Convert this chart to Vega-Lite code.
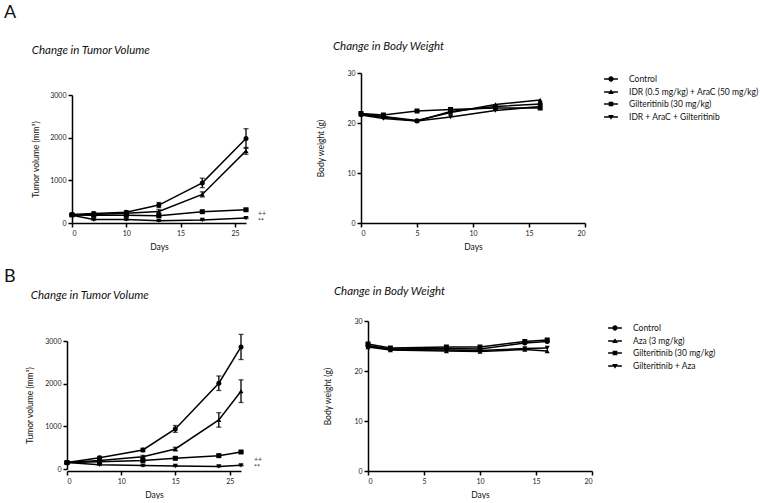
{
  "$schema": "https://vega.github.io/schema/vega-lite/v6.json",
  "background": "white",
  "padding": {"left": 4, "top": 3, "right": 0, "bottom": 0},
  "datasets": {
    "tumorA": [
      {"group": "Control", "day": 0, "vol": 200, "err": 20},
      {"group": "Control", "day": 4, "vol": 220, "err": 40},
      {"group": "Control", "day": 10, "vol": 250, "err": 40},
      {"group": "Control", "day": 13, "vol": 420, "err": 60},
      {"group": "Control", "day": 19, "vol": 940, "err": 110},
      {"group": "Control", "day": 27, "vol": 1980, "err": 230},
      {"group": "IDR (0.5 mg/kg) + AraC (50 mg/kg)", "day": 0, "vol": 190, "err": 20},
      {"group": "IDR (0.5 mg/kg) + AraC (50 mg/kg)", "day": 4, "vol": 200, "err": 30},
      {"group": "IDR (0.5 mg/kg) + AraC (50 mg/kg)", "day": 10, "vol": 230, "err": 30},
      {"group": "IDR (0.5 mg/kg) + AraC (50 mg/kg)", "day": 13, "vol": 270, "err": 40},
      {"group": "IDR (0.5 mg/kg) + AraC (50 mg/kg)", "day": 19, "vol": 670, "err": 60},
      {"group": "IDR (0.5 mg/kg) + AraC (50 mg/kg)", "day": 27, "vol": 1690, "err": 80},
      {"group": "Gilteritinib (30 mg/kg)", "day": 0, "vol": 190, "err": 20},
      {"group": "Gilteritinib (30 mg/kg)", "day": 4, "vol": 180, "err": 20},
      {"group": "Gilteritinib (30 mg/kg)", "day": 10, "vol": 180, "err": 20},
      {"group": "Gilteritinib (30 mg/kg)", "day": 13, "vol": 170, "err": 20},
      {"group": "Gilteritinib (30 mg/kg)", "day": 19, "vol": 265, "err": 20},
      {"group": "Gilteritinib (30 mg/kg)", "day": 27, "vol": 310, "err": 20},
      {"group": "IDR + AraC + Gilteritinib", "day": 0, "vol": 180, "err": 20},
      {"group": "IDR + AraC + Gilteritinib", "day": 4, "vol": 80, "err": 15},
      {"group": "IDR + AraC + Gilteritinib", "day": 10, "vol": 80, "err": 15},
      {"group": "IDR + AraC + Gilteritinib", "day": 13, "vol": 50, "err": 10},
      {"group": "IDR + AraC + Gilteritinib", "day": 19, "vol": 70, "err": 10},
      {"group": "IDR + AraC + Gilteritinib", "day": 27, "vol": 115, "err": 10}
    ],
    "annotA": [
      {"label": "++", "day": 27, "vol": 210},
      {"label": "**", "day": 27, "vol": 20}
    ],
    "weightA": [
      {"group": "Control", "day": 0, "wt": 21.8},
      {"group": "Control", "day": 2, "wt": 21.2},
      {"group": "Control", "day": 5, "wt": 20.4},
      {"group": "Control", "day": 8, "wt": 22.3},
      {"group": "Control", "day": 12, "wt": 23.3},
      {"group": "Control", "day": 16, "wt": 23.8},
      {"group": "IDR (0.5 mg/kg) + AraC (50 mg/kg)", "day": 0, "wt": 21.7},
      {"group": "IDR (0.5 mg/kg) + AraC (50 mg/kg)", "day": 2, "wt": 21.3},
      {"group": "IDR (0.5 mg/kg) + AraC (50 mg/kg)", "day": 5, "wt": 20.5},
      {"group": "IDR (0.5 mg/kg) + AraC (50 mg/kg)", "day": 8, "wt": 22.1},
      {"group": "IDR (0.5 mg/kg) + AraC (50 mg/kg)", "day": 12, "wt": 23.7},
      {"group": "IDR (0.5 mg/kg) + AraC (50 mg/kg)", "day": 16, "wt": 24.6},
      {"group": "Gilteritinib (30 mg/kg)", "day": 0, "wt": 21.9},
      {"group": "Gilteritinib (30 mg/kg)", "day": 2, "wt": 21.6},
      {"group": "Gilteritinib (30 mg/kg)", "day": 5, "wt": 22.4},
      {"group": "Gilteritinib (30 mg/kg)", "day": 8, "wt": 22.7},
      {"group": "Gilteritinib (30 mg/kg)", "day": 12, "wt": 23.0},
      {"group": "Gilteritinib (30 mg/kg)", "day": 16, "wt": 23.0},
      {"group": "IDR + AraC + Gilteritinib", "day": 0, "wt": 21.6},
      {"group": "IDR + AraC + Gilteritinib", "day": 2, "wt": 20.9},
      {"group": "IDR + AraC + Gilteritinib", "day": 5, "wt": 20.4},
      {"group": "IDR + AraC + Gilteritinib", "day": 8, "wt": 21.2},
      {"group": "IDR + AraC + Gilteritinib", "day": 12, "wt": 22.5},
      {"group": "IDR + AraC + Gilteritinib", "day": 16, "wt": 23.3}
    ],
    "tumorB": [
      {"group": "Control", "day": 0, "vol": 150, "err": 20},
      {"group": "Control", "day": 6, "vol": 265, "err": 30},
      {"group": "Control", "day": 12, "vol": 446, "err": 40},
      {"group": "Control", "day": 15, "vol": 939, "err": 80},
      {"group": "Control", "day": 23, "vol": 2010, "err": 170},
      {"group": "Control", "day": 27, "vol": 2860, "err": 295},
      {"group": "Aza (3 mg/kg)", "day": 0, "vol": 150, "err": 20},
      {"group": "Aza (3 mg/kg)", "day": 6, "vol": 200, "err": 20},
      {"group": "Aza (3 mg/kg)", "day": 12, "vol": 289, "err": 30},
      {"group": "Aza (3 mg/kg)", "day": 15, "vol": 469, "err": 40},
      {"group": "Aza (3 mg/kg)", "day": 23, "vol": 1150, "err": 170},
      {"group": "Aza (3 mg/kg)", "day": 27, "vol": 1824, "err": 265},
      {"group": "Gilteritinib (30 mg/kg)", "day": 0, "vol": 150, "err": 20},
      {"group": "Gilteritinib (30 mg/kg)", "day": 6, "vol": 170, "err": 20},
      {"group": "Gilteritinib (30 mg/kg)", "day": 12, "vol": 200, "err": 20},
      {"group": "Gilteritinib (30 mg/kg)", "day": 15, "vol": 251, "err": 20},
      {"group": "Gilteritinib (30 mg/kg)", "day": 23, "vol": 313, "err": 20},
      {"group": "Gilteritinib (30 mg/kg)", "day": 27, "vol": 399, "err": 20},
      {"group": "Gilteritinib + Aza", "day": 0, "vol": 150, "err": 20},
      {"group": "Gilteritinib + Aza", "day": 6, "vol": 100, "err": 15},
      {"group": "Gilteritinib + Aza", "day": 12, "vol": 80, "err": 15},
      {"group": "Gilteritinib + Aza", "day": 15, "vol": 70, "err": 10},
      {"group": "Gilteritinib + Aza", "day": 23, "vol": 60, "err": 10},
      {"group": "Gilteritinib + Aza", "day": 27, "vol": 85, "err": 10}
    ],
    "annotB": [
      {"label": "++", "day": 27, "vol": 200},
      {"label": "**", "day": 27, "vol": 20}
    ],
    "weightB": [
      {"group": "Control", "day": 0, "wt": 25.0},
      {"group": "Control", "day": 2, "wt": 24.4},
      {"group": "Control", "day": 7, "wt": 24.5},
      {"group": "Control", "day": 10, "wt": 24.4},
      {"group": "Control", "day": 14, "wt": 25.6},
      {"group": "Control", "day": 16, "wt": 25.9},
      {"group": "Aza (3 mg/kg)", "day": 0, "wt": 24.8},
      {"group": "Aza (3 mg/kg)", "day": 2, "wt": 24.2},
      {"group": "Aza (3 mg/kg)", "day": 7, "wt": 24.0},
      {"group": "Aza (3 mg/kg)", "day": 10, "wt": 23.9},
      {"group": "Aza (3 mg/kg)", "day": 14, "wt": 24.3},
      {"group": "Aza (3 mg/kg)", "day": 16, "wt": 24.0},
      {"group": "Gilteritinib (30 mg/kg)", "day": 0, "wt": 25.4},
      {"group": "Gilteritinib (30 mg/kg)", "day": 2, "wt": 24.6},
      {"group": "Gilteritinib (30 mg/kg)", "day": 7, "wt": 24.8},
      {"group": "Gilteritinib (30 mg/kg)", "day": 10, "wt": 24.8},
      {"group": "Gilteritinib (30 mg/kg)", "day": 14, "wt": 25.9},
      {"group": "Gilteritinib (30 mg/kg)", "day": 16, "wt": 26.2},
      {"group": "Gilteritinib + Aza", "day": 0, "wt": 25.1},
      {"group": "Gilteritinib + Aza", "day": 2, "wt": 24.3},
      {"group": "Gilteritinib + Aza", "day": 7, "wt": 24.2},
      {"group": "Gilteritinib + Aza", "day": 10, "wt": 24.1},
      {"group": "Gilteritinib + Aza", "day": 14, "wt": 24.5},
      {"group": "Gilteritinib + Aza", "day": 16, "wt": 24.6}
    ]
  },
  "vconcat": [
    {
      "title": {"text": "A", "fontSize": 18, "fontStyle": "normal", "anchor": "start", "frame": "group", "offset": 19, "dx": -63},
      "spacing": 49,
      "resolve": {"scale": {"shape": "independent"}, "legend": {"shape": "independent"}},
      "hconcat": [
        {
          "width": 179, "height": 150,
          "title": {"text": "Change in Tumor Volume", "offset": 17},
          "data": {"name": "tumorA"},
          "encoding": {
            "x": {"field": "day", "type": "quantitative", "title": "Days", "scale": {"domain": [0, 10, 15, 25, 27], "range": [5, 59.3, 113.5, 168, 179]}, "axis": {"values": [0, 10, 15, 25]}},
            "y": {"field": "vol", "type": "quantitative", "title": "Tumor volume (mm³)", "scale": {"domain": [0, 3000], "nice": false, "range": [150, 22]}, "axis": {"values": [0, 1000, 2000, 3000], "format": "d", "offset": -5, "titlePadding": 9}}
          },
          "layer": [
            {"mark": {"type": "line", "color": "black", "strokeWidth": 1.5}, "encoding": {"detail": {"field": "group"}}},
            {"mark": {"type": "errorbar", "color": "black", "thickness": 1.3, "ticks": {"size": 5}}, "encoding": {"yError": {"field": "err"}, "detail": {"field": "group"}}},
            {"mark": {"type": "point", "filled": true, "color": "black", "size": 25, "opacity": 1}, "encoding": {"shape": {"field": "group", "type": "nominal", "scale": {"domain": ["Control", "IDR (0.5 mg/kg) + AraC (50 mg/kg)", "Gilteritinib (30 mg/kg)", "IDR + AraC + Gilteritinib"], "range": ["circle", "triangle-up", "square", "triangle-down"]}, "legend": null}}},
            {"data": {"name": "annotA"}, "mark": {"type": "text", "align": "left", "baseline": "middle", "dx": 12, "fontSize": 7, "color": "#333", "fill": "#333"}, "encoding": {"text": {"field": "label"}}}
          ]
        },
        {
          "width": 224, "height": 150,
          "title": {"text": "Change in Body Weight", "offset": 17, "dx": 16},
          "data": {"name": "weightA"},
          "encoding": {
            "x": {"field": "day", "type": "quantitative", "title": "Days", "scale": {"domain": [0, 20], "nice": false}, "axis": {"values": [0, 5, 10, 15, 20]}},
            "y": {"field": "wt", "type": "quantitative", "title": "Body weight (g)", "scale": {"domain": [0, 30], "nice": false}, "axis": {"values": [0, 10, 20, 30], "titlePadding": 21}}
          },
          "resolve": {"scale": {"shape": "independent"}, "legend": {"shape": "independent"}},
          "layer": [
            {"mark": {"type": "line", "color": "black", "strokeWidth": 1.5}, "encoding": {"detail": {"field": "group"}}},
            {"mark": {"type": "point", "filled": true, "color": "black", "size": 25, "opacity": 1}, "encoding": {"shape": {"field": "group", "type": "nominal", "scale": {"domain": ["Control", "IDR (0.5 mg/kg) + AraC (50 mg/kg)", "Gilteritinib (30 mg/kg)", "IDR + AraC + Gilteritinib"], "range": ["circle", "triangle-up", "square", "triangle-down"]}, "legend": null}}},
            {"mark": {"type": "point", "filled": true, "color": "black", "size": 0, "opacity": 1}, "encoding": {"shape": {"field": "group", "type": "nominal",
              "scale": {"domain": ["Control", "IDR (0.5 mg/kg) + AraC (50 mg/kg)", "Gilteritinib (30 mg/kg)", "IDR + AraC + Gilteritinib"], "range": ["M-1.15,-0.12H1.15V0.12H-1.15ZM-0.44,0A0.44,0.44,0,1,1,0.44,0A0.44,0.44,0,1,1,-0.44,0Z", "M-1.15,-0.12H1.15V0.12H-1.15ZM0,-0.47L0.47,0.33L-0.47,0.33Z", "M-1.15,-0.12H1.15V0.12H-1.15ZM-0.39,-0.39H0.39V0.39H-0.39Z", "M-1.15,-0.12H1.15V0.12H-1.15ZM-0.47,-0.33L0.47,-0.33L0,0.47Z"]},
              "legend": {"title": null, "orient": "none", "legendX": 243, "legendY": -1, "rowPadding": 0, "labelOffset": 11, "symbolFillColor": "black"}}}}
          ]
        }
      ]
    },
    {
      "title": {"text": "B", "fontSize": 18, "fontStyle": "normal", "anchor": "start", "frame": "group", "offset": 0, "dx": -63},
      "spacing": 60,
      "resolve": {"scale": {"shape": "independent"}, "legend": {"shape": "independent"}},
      "hconcat": [
        {
          "width": 174, "height": 150,
          "title": {"text": "Change in Tumor Volume", "offset": 20, "dx": 5},
          "data": {"name": "tumorB"},
          "encoding": {
            "x": {"field": "day", "type": "quantitative", "title": "Days", "scale": {"domain": [0, 10, 15, 25, 27], "range": [0, 54.3, 108.3, 162.7, 174]}, "axis": {"values": [0, 10, 15, 25]}},
            "y": {"field": "vol", "type": "quantitative", "title": "Tumor volume (mm³)", "scale": {"domain": [0, 3000], "nice": false, "range": [148, 20]}, "axis": {"values": [0, 1000, 2000, 3000], "format": "d", "titlePadding": 10}}
          },
          "layer": [
            {"mark": {"type": "line", "color": "black", "strokeWidth": 1.5}, "encoding": {"detail": {"field": "group"}}},
            {"mark": {"type": "errorbar", "color": "black", "thickness": 1.3, "ticks": {"size": 5}}, "encoding": {"yError": {"field": "err"}, "detail": {"field": "group"}}},
            {"mark": {"type": "point", "filled": true, "color": "black", "size": 25, "opacity": 1}, "encoding": {"shape": {"field": "group", "type": "nominal", "scale": {"domain": ["Control", "Aza (3 mg/kg)", "Gilteritinib (30 mg/kg)", "Gilteritinib + Aza"], "range": ["circle", "triangle-up", "square", "triangle-down"]}, "legend": null}}},
            {"data": {"name": "annotB"}, "mark": {"type": "text", "align": "left", "baseline": "middle", "dx": 13, "fontSize": 7, "color": "#333", "fill": "#333"}, "encoding": {"text": {"field": "label"}}}
          ]
        },
        {
          "width": 224, "height": 150,
          "title": {"text": "Change in Body Weight", "offset": 20, "dx": 10},
          "data": {"name": "weightB"},
          "encoding": {
            "x": {"field": "day", "type": "quantitative", "title": "Days", "scale": {"domain": [0, 20], "nice": false}, "axis": {"values": [0, 5, 10, 15, 20]}},
            "y": {"field": "wt", "type": "quantitative", "title": "Body weight (g)", "scale": {"domain": [0, 30], "nice": false}, "axis": {"values": [0, 10, 20, 30], "titlePadding": 21}}
          },
          "resolve": {"scale": {"shape": "independent"}, "legend": {"shape": "independent"}},
          "layer": [
            {"mark": {"type": "line", "color": "black", "strokeWidth": 1.5}, "encoding": {"detail": {"field": "group"}}},
            {"mark": {"type": "point", "filled": true, "color": "black", "size": 25, "opacity": 1}, "encoding": {"shape": {"field": "group", "type": "nominal", "scale": {"domain": ["Control", "Aza (3 mg/kg)", "Gilteritinib (30 mg/kg)", "Gilteritinib + Aza"], "range": ["circle", "triangle-up", "square", "triangle-down"]}, "legend": null}}},
            {"mark": {"type": "point", "filled": true, "color": "black", "size": 0, "opacity": 1}, "encoding": {"shape": {"field": "group", "type": "nominal",
              "scale": {"domain": ["Control", "Aza (3 mg/kg)", "Gilteritinib (30 mg/kg)", "Gilteritinib + Aza"], "range": ["M-1.15,-0.12H1.15V0.12H-1.15ZM-0.44,0A0.44,0.44,0,1,1,0.44,0A0.44,0.44,0,1,1,-0.44,0Z", "M-1.15,-0.12H1.15V0.12H-1.15ZM0,-0.47L0.47,0.33L-0.47,0.33Z", "M-1.15,-0.12H1.15V0.12H-1.15ZM-0.39,-0.39H0.39V0.39H-0.39Z", "M-1.15,-0.12H1.15V0.12H-1.15ZM-0.47,-0.33L0.47,-0.33L0,0.47Z"]},
              "legend": {"title": null, "orient": "none", "legendX": 240, "legendY": 0, "rowPadding": 0, "labelOffset": 11, "symbolFillColor": "black"}}}}
          ]
        }
      ]
    }
  ],
  "spacing": 16,
  "resolve": {"scale": {"shape": "independent"}, "legend": {"shape": "independent"}},
  "config": {
    "view": {"stroke": null},
    "font": "Lato",
    "axis": {"domainColor": "black", "domainWidth": 1.5, "tickColor": "black", "tickWidth": 1.5, "tickSize": 4, "grid": false, "labelFontSize": 7, "labelColor": "#222", "labelFont": "Lato", "titleFont": "Lato", "titleFontSize": 8.5, "titleFontWeight": "normal", "titleColor": "#111", "labelPadding": 2, "titlePadding": 6},
    "legend": {"labelFont": "Lato", "labelFontSize": 8.5, "labelColor": "#111", "padding": 0, "symbolSize": 144},
    "title": {"font": "Lato", "fontSize": 11.5, "fontStyle": "italic", "fontWeight": "normal", "color": "#111", "anchor": "start", "frame": "bounds"}
  }
}
